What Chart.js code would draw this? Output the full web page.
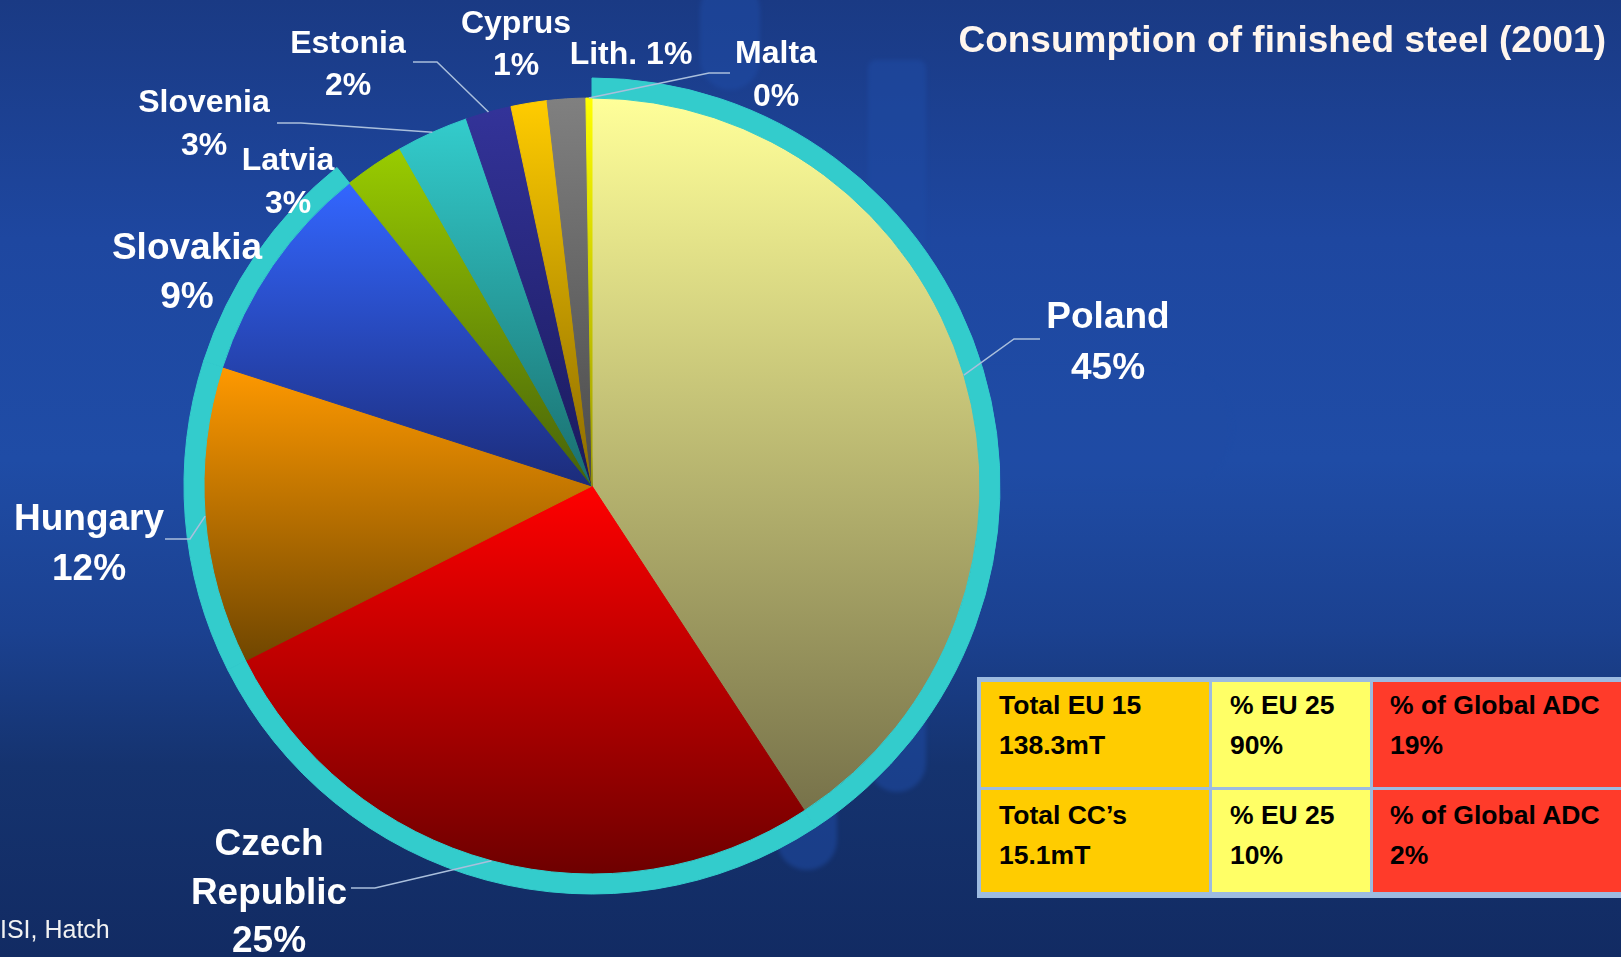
<!DOCTYPE html>
<html>
<head>
<meta charset="utf-8">
<title>Consumption of finished steel (2001)</title>
<script src="https://cdn.jsdelivr.net/npm/chart.js@4/dist/chart.umd.min.js"></script>
<style>
  html, body { margin: 0; padding: 0; }
  body {
    width: 1621px; height: 957px; overflow: hidden; position: relative;
    font-family: "Liberation Sans", Arial, sans-serif;
    background: linear-gradient(180deg, #1a3a84 0%, #1e47a0 25%, #1f4ca6 48%, #1b4190 66%, #15336f 80%, #122b63 100%);
  }
  /* faint logo shapes in the slide background */
  .ghost { position: absolute; background: #1f4ba4; opacity: 0.55; filter: blur(2px); }
  #pie { position: absolute; left: 0; top: 0; }
  #totals {
    position: absolute; left: 977px; top: 677px; width: 720px; height: 210px;
    padding: 5px 0 6px 4px; background: #9dbbe0;
    display: grid; grid-template-columns: 228px 158px 330px; grid-template-rows: 105px 102px;
    column-gap: 3px; row-gap: 3px;
  }
  #totals div {
    padding: 3px 0 0 18px; font-weight: bold; font-size: 26.5px; line-height: 40px; color: #000;
  }
  #totals div.r1 { padding-top: 5px; }
  #totals .c0 { background: #ffcc00; }
  #totals .c1 { background: #ffff66; }
  #totals .c2 { background: #ff3b2a; padding-left: 17px; }
</style>
</head>
<body>
<div class="ghost" style="left:700px;top:-20px;width:60px;height:110px;border-radius:30px;"></div>
<div class="ghost" style="left:868px;top:60px;width:58px;height:732px;border-radius:8px 8px 29px 29px;"></div>
<div class="ghost" style="left:777px;top:600px;width:60px;height:270px;border-radius:8px 8px 30px 30px;"></div>
<div class="ghost" style="left:926px;top:367px;width:306px;height:121px;border-radius:0 60px 60px 0;opacity:0.35;"></div>
<canvas id="pie" width="1621" height="957"></canvas>
<div id="totals"></div>
<script>
// slices clockwise from 12 o'clock; shares as drawn (the printed labels are rounded)
const countries = ["Poland", "Czech Republic", "Hungary", "Slovakia", "Latvia",
                   "Slovenia", "Estonia", "Cyprus", "Lithuania", "Malta"];
const labelNames = ["Poland", "Czech\nRepublic", "Hungary", "Slovakia", "Latvia",
                    "Slovenia", "Estonia", "Cyprus", "Lith.", "Malta"];
const sliceShare = [40.8, 26.8, 12.4, 9.3, 2.5, 3.0, 1.9, 1.5, 1.6, 0.25];
const shareLabels = ["45%", "25%", "12%", "9%", "3%", "3%", "2%", "1%", "1%", "0%"];
const inRing = [true, true, true, true, false, false, false, false, false, false];

// the little totals table
const groups = ["Total EU 15", "Total CC\u2019s"];
const groupTonnes = ["138.3mT", "15.1mT"];
const shareEU25 = ["90%", "10%"];
const shareGlobalADC = ["19%", "2%"];

const SLICE_TOP = ["#ffff99", "#ff0000", "#ff9900", "#3366ff", "#99cc00",
                   "#33cccc", "#333399", "#ffcc00", "#808080", "#ffff00"];
const SLICE_BOTTOM = ["#77724a", "#6e0000", "#704600", "#1c2c7a", "#46600a",
                      "#1a6e6e", "#1a1a5c", "#8a6a00", "#4a4a4a", "#999900"];
const RING_COLOR = "#33cccc";
const RING_WEIGHT = 20, PIE_WEIGHT = 388;

// where each label sits (x = centre of text, y = first baseline) and its leader elbow/end
const LABEL_LAYOUT = [
  { x: 1108, y: 328, gap: 51, size: 37, leader: [[1014, 339], [1040, 339]] },
  { x: 269, y: 855, gap: 48.5, size: 37, leader: [[375, 888], [351, 888]] },
  { x: 89, y: 530, gap: 50, size: 37, leader: [[190, 539], [165, 539]] },
  { x: 187, y: 259, gap: 49, size: 37 },
  { x: 288, y: 170, gap: 43, size: 32 },
  { x: 204, y: 112, gap: 43, size: 32, leader: [[301, 123], [277, 123]] },
  { x: 348, y: 53, gap: 42, size: 32, leader: [[437, 62], [413, 62]] },
  { x: 516, y: 33, gap: 42, size: 32 },
  { x: 631, y: 64, gap: 0, size: 32, inline: true },
  { x: 776, y: 63, gap: 43, size: 32, leader: [[709, 73], [730, 73]] },
];

function buildTable() {
  const el = document.getElementById("totals");
  let html = "";
  groups.forEach((g, i) => {
    const r = `r${i}`;
    html += `<div class="c0 ${r}">${g}<br>${groupTonnes[i]}</div>` +
            `<div class="c1 ${r}">% EU 25<br>${shareEU25[i]}</div>` +
            `<div class="c2 ${r}">% of Global ADC<br>${shareGlobalADC[i]}</div>`;
  });
  el.innerHTML = html;
}

// vertical gradient over each slice's own bounding box, light on top, dark below
function sliceFill(ctx) {
  const i = ctx.dataIndex;
  const area = ctx.chart.chartArea;
  if (ctx.type !== "data" || !area) return SLICE_TOP[i] || SLICE_TOP[0];
  const cx = (area.left + area.right) / 2, cy = (area.top + area.bottom) / 2;
  const r = (Math.min(area.width, area.height) - 1) / 2 * PIE_WEIGHT / (PIE_WEIGHT + RING_WEIGHT);
  const total = sliceShare.reduce((a, b) => a + b, 0);
  let before = 0;
  for (let j = 0; j < i; j++) before += sliceShare[j];
  const t0 = before / total * 2 * Math.PI;
  const t1 = (before + sliceShare[i]) / total * 2 * Math.PI;
  const ys = [cy, cy - r * Math.cos(t0), cy - r * Math.cos(t1)];
  if (t0 <= 0) ys.push(cy - r);
  if (t0 <= Math.PI && t1 >= Math.PI) ys.push(cy + r);
  const g = ctx.chart.ctx.createLinearGradient(0, Math.min(...ys), 0, Math.max(...ys));
  g.addColorStop(0, SLICE_TOP[i]);
  g.addColorStop(1, SLICE_BOTTOM[i]);
  return g;
}

const labelPlugin = {
  id: "sliceLabels",
  afterDatasetsDraw(chart) {
    const c = chart.ctx;
    const arcs = chart.getDatasetMeta(1).data;
    c.save();
    // leader lines from the middle of each slice's rim
    c.strokeStyle = "#aabfdc";
    c.lineWidth = 1.5;
    LABEL_LAYOUT.forEach((lay, i) => {
      if (!lay.leader) return;
      const a = arcs[i];
      const mid = (a.startAngle + a.endAngle) / 2;
      c.beginPath();
      c.moveTo(a.x + Math.cos(mid) * a.outerRadius, a.y + Math.sin(mid) * a.outerRadius);
      lay.leader.forEach(([x, y]) => c.lineTo(x, y));
      c.stroke();
    });
    c.fillStyle = "#ffffff";
    c.textAlign = "center";
    c.textBaseline = "alphabetic";
    LABEL_LAYOUT.forEach((lay, i) => {
      const lines = lay.inline
        ? [labelNames[i] + " " + shareLabels[i]]
        : [...labelNames[i].split("\n"), shareLabels[i]];
      c.font = `bold ${lay.size}px "Liberation Sans", Arial, sans-serif`;
      lines.forEach((t, k) => c.fillText(t, lay.x, lay.y + k * lay.gap));
    });
    // title and source
    c.fillStyle = "#fff6ee";
    c.textAlign = "right";
    c.font = 'bold 37px "Liberation Sans", Arial, sans-serif';
    c.fillText("Consumption of finished steel (2001)", 1606, 52);
    c.fillStyle = "#f2f2f2";
    c.textAlign = "left";
    c.font = '25px "Liberation Sans", Arial, sans-serif';
    c.fillText("ISI, Hatch", 0, 938);
    c.restore();
  },
};

buildTable();

new Chart(document.getElementById("pie"), {
  type: "pie",
  data: {
    labels: countries,
    datasets: [
      {
        // teal rim behind the four big slices
        data: sliceShare,
        weight: RING_WEIGHT,
        backgroundColor: inRing.map((m) => (m ? RING_COLOR : "rgba(0,0,0,0)")),
        borderColor: inRing.map((m) => (m ? RING_COLOR : "rgba(0,0,0,0)")),
        borderWidth: 1,
      },
      {
        data: sliceShare,
        weight: PIE_WEIGHT,
        backgroundColor: sliceFill,
        borderColor: sliceFill,
        borderWidth: 1,
      },
    ],
  },
  options: {
    responsive: false,
    animation: false,
    events: [],
    layout: { padding: { left: 183.5, right: 620.5, top: 77.5, bottom: 62.5 } },
    plugins: { legend: { display: false }, tooltip: { enabled: false } },
  },
  plugins: [labelPlugin],
});
</script>
</body>
</html>
